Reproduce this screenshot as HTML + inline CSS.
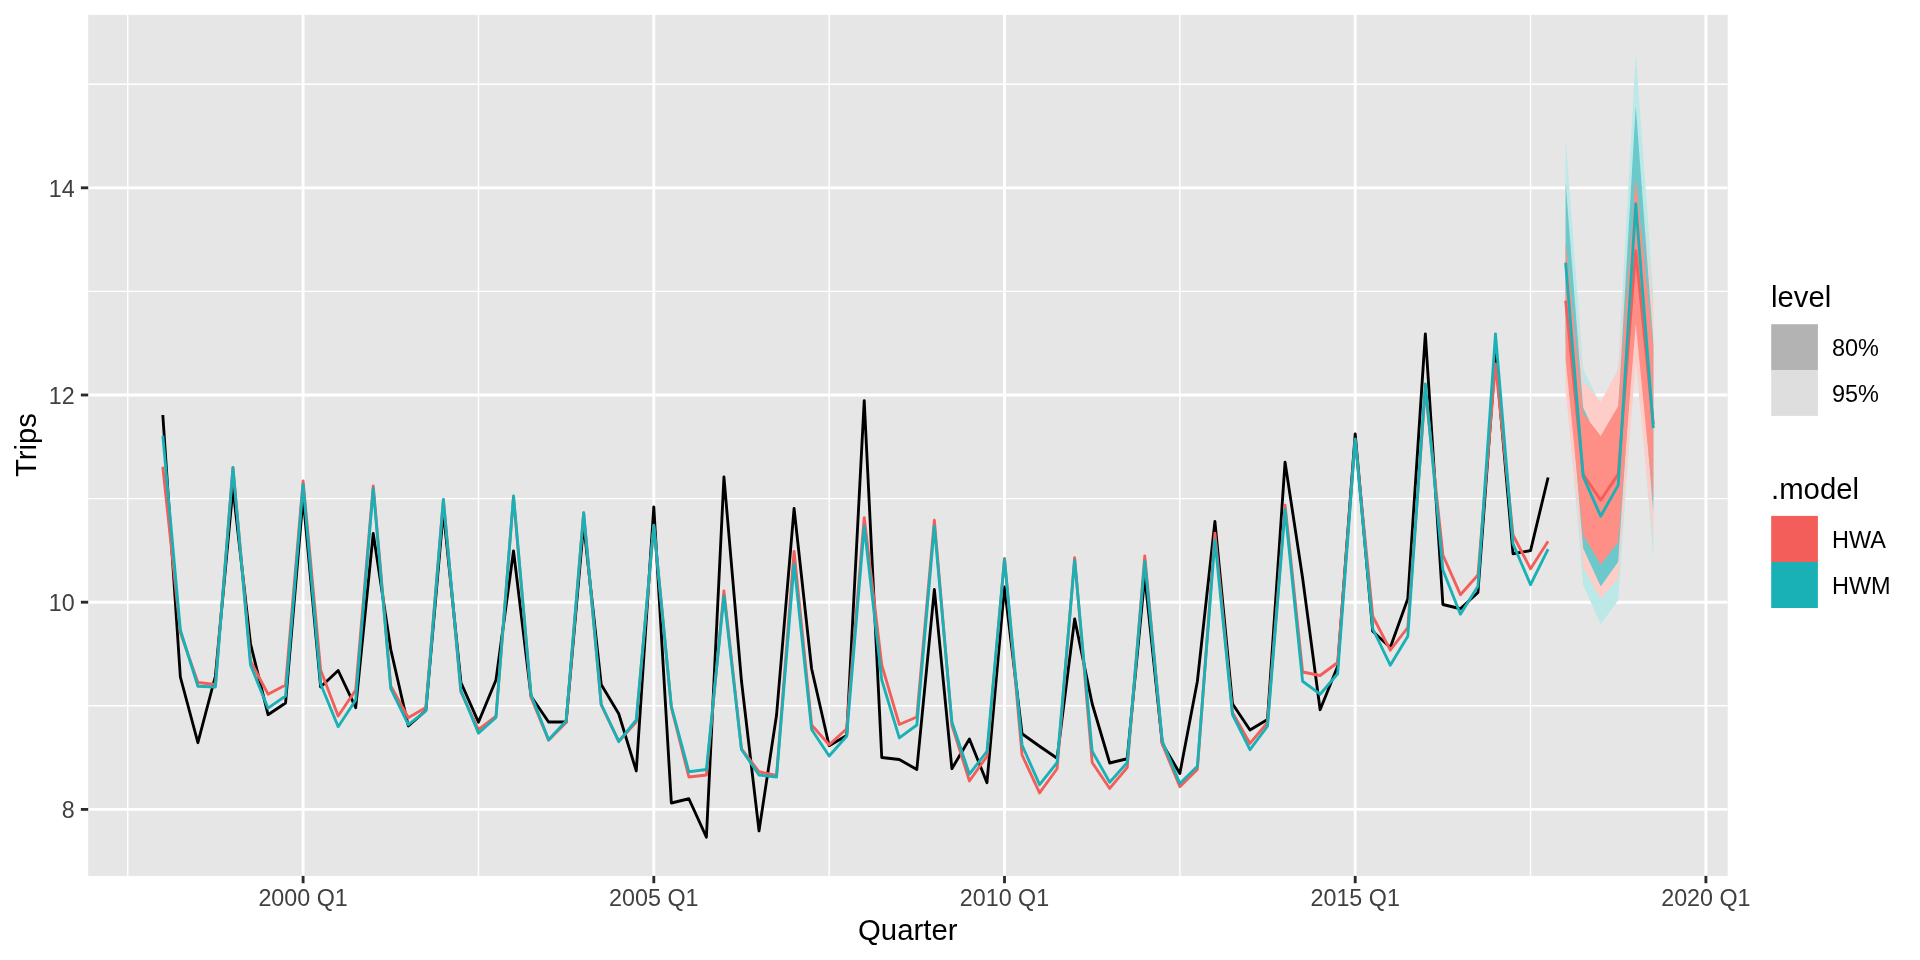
<!DOCTYPE html>
<html><head><meta charset="utf-8"><title>Holt-Winters forecasts</title>
<style>html,body{margin:0;padding:0;background:#fff;}body{width:1920px;height:960px;overflow:hidden;font-family:"Liberation Sans",sans-serif;}</style>
</head><body>
<svg width="1920" height="960" viewBox="0 0 1920 960" style="display:block;will-change:transform">
<rect x="0" y="0" width="1920" height="960" fill="#FFFFFF"/>
<rect x="88.20" y="14.90" width="1639.50" height="861.00" fill="#E6E6E6"/>
<defs><clipPath id="cp"><rect x="88.20" y="14.90" width="1639.50" height="861.00"/></clipPath></defs>
<g clip-path="url(#cp)">
<line x1="88.20" x2="1727.70" y1="705.80" y2="705.80" stroke="#fff" stroke-width="1.42"/>
<line x1="88.20" x2="1727.70" y1="498.60" y2="498.60" stroke="#fff" stroke-width="1.42"/>
<line x1="88.20" x2="1727.70" y1="291.40" y2="291.40" stroke="#fff" stroke-width="1.42"/>
<line x1="88.20" x2="1727.70" y1="84.20" y2="84.20" stroke="#fff" stroke-width="1.42"/>
<line y1="14.90" y2="875.90" x1="127.75" x2="127.75" stroke="#fff" stroke-width="1.42"/>
<line y1="14.90" y2="875.90" x1="478.45" x2="478.45" stroke="#fff" stroke-width="1.42"/>
<line y1="14.90" y2="875.90" x1="829.15" x2="829.15" stroke="#fff" stroke-width="1.42"/>
<line y1="14.90" y2="875.90" x1="1179.85" x2="1179.85" stroke="#fff" stroke-width="1.42"/>
<line y1="14.90" y2="875.90" x1="1530.55" x2="1530.55" stroke="#fff" stroke-width="1.42"/>
<line x1="88.20" x2="1727.70" y1="809.40" y2="809.40" stroke="#fff" stroke-width="2.85"/>
<line x1="88.20" x2="1727.70" y1="602.20" y2="602.20" stroke="#fff" stroke-width="2.85"/>
<line x1="88.20" x2="1727.70" y1="395.00" y2="395.00" stroke="#fff" stroke-width="2.85"/>
<line x1="88.20" x2="1727.70" y1="187.80" y2="187.80" stroke="#fff" stroke-width="2.85"/>
<line y1="14.90" y2="875.90" x1="303.10" x2="303.10" stroke="#fff" stroke-width="2.85"/>
<line y1="14.90" y2="875.90" x1="653.80" x2="653.80" stroke="#fff" stroke-width="2.85"/>
<line y1="14.90" y2="875.90" x1="1004.50" x2="1004.50" stroke="#fff" stroke-width="2.85"/>
<line y1="14.90" y2="875.90" x1="1355.20" x2="1355.20" stroke="#fff" stroke-width="2.85"/>
<line y1="14.90" y2="875.90" x1="1705.90" x2="1705.90" stroke="#fff" stroke-width="2.85"/>
<polygon points="1565.62,138.49 1583.15,369.10 1600.69,405.36 1618.22,368.06 1635.76,53.12 1653.29,293.47 1653.29,557.65 1635.76,348.38 1618.22,600.13 1600.69,624.27 1583.15,585.21 1565.62,381.53" fill="#BDE8E8"/>
<polygon points="1565.62,211.31 1583.15,380.99 1600.69,401.85 1618.22,369.84 1635.76,139.41 1653.29,304.85 1653.29,543.16 1635.76,361.96 1618.22,578.46 1600.69,598.45 1583.15,567.52 1565.62,389.72" fill="#FECDC8"/>
<polygon points="1565.62,182.62 1583.15,407.43 1600.69,444.73 1618.22,408.47 1635.76,105.96 1653.29,342.16 1653.29,512.07 1635.76,298.65 1618.22,561.80 1600.69,586.45 1583.15,548.33 1565.62,340.09" fill="#6BC9CB"/>
<polygon points="1565.62,242.19 1583.15,413.27 1600.69,435.88 1618.22,405.94 1635.76,177.93 1653.29,346.10 1653.29,501.92 1635.76,323.45 1618.22,542.36 1600.69,564.43 1583.15,535.24 1565.62,358.84" fill="#FE8F87"/>
<polyline points="1565.62,300.52 1583.15,474.25 1600.69,500.15 1618.22,474.15 1635.76,250.69 1653.29,424.01" stroke="#F35E5A" fill="none" stroke-width="2.85" stroke-linejoin="round" stroke-linecap="butt"/>
<polyline points="1565.62,262.70 1583.15,476.33 1600.69,516.21 1618.22,485.13 1635.76,203.75 1653.29,428.15" stroke="#19B1B6" fill="none" stroke-width="2.85" stroke-linejoin="round" stroke-linecap="butt"/>
<polyline points="162.82,415.00 180.35,677.00 197.89,742.70 215.43,676.00 232.96,488.00 250.50,643.75 268.03,714.70 285.56,703.00 303.10,497.50 320.63,686.95 338.17,670.50 355.70,707.70 373.24,533.40 390.77,649.50 408.31,725.95 425.84,710.50 443.38,511.00 460.92,682.50 478.45,722.20 495.99,680.00 513.52,550.90 531.06,696.25 548.59,722.00 566.12,722.00 583.66,524.00 601.19,684.50 618.73,713.75 636.26,770.95 653.80,506.90 671.34,803.00 688.87,798.75 706.40,837.20 723.94,476.90 741.47,681.00 759.01,830.95 776.55,715.00 794.08,508.40 811.62,668.75 829.15,745.70 846.68,735.50 864.22,400.65 881.76,757.50 899.29,759.50 916.83,769.45 934.36,589.40 951.89,768.70 969.43,739.00 986.96,782.70 1004.50,586.90 1022.04,733.75 1039.57,746.25 1057.11,758.20 1074.64,618.90 1092.17,703.75 1109.71,763.00 1127.24,758.75 1144.78,576.40 1162.32,743.75 1179.85,773.45 1197.38,681.25 1214.92,521.40 1232.45,703.75 1249.99,729.95 1267.52,719.50 1285.06,462.15 1302.60,578.00 1320.13,709.70 1337.66,666.25 1355.20,433.90 1372.73,631.25 1390.27,647.45 1407.80,598.75 1425.34,333.90 1442.88,604.50 1460.41,608.75 1477.94,592.50 1495.48,353.90 1513.01,553.75 1530.55,550.60 1548.09,477.50" stroke="#000" fill="none" stroke-width="2.85" stroke-linejoin="round" stroke-linecap="butt"/>
<polyline points="162.82,466.75 180.35,632.50 197.89,682.50 215.43,684.50 232.96,467.50 250.50,661.00 268.03,694.20 285.56,685.00 303.10,481.00 320.63,670.00 338.17,715.95 355.70,690.00 373.24,485.90 390.77,686.00 408.31,717.70 425.84,707.50 443.38,500.00 460.92,692.00 478.45,729.70 495.99,716.00 513.52,497.00 531.06,697.50 548.59,740.20 566.12,722.50 583.66,513.00 601.19,705.00 618.73,741.20 636.26,722.00 653.80,526.00 671.34,707.50 688.87,777.00 706.40,775.00 723.94,590.90 741.47,748.75 759.01,771.75 776.55,775.50 794.08,551.40 811.62,725.00 829.15,744.70 846.68,728.75 864.22,517.65 881.76,665.00 899.29,724.45 916.83,717.00 934.36,520.15 951.89,725.00 969.43,780.95 986.96,756.25 1004.50,558.40 1022.04,755.00 1039.57,792.95 1057.11,768.75 1074.64,557.65 1092.17,762.50 1109.71,788.45 1127.24,767.50 1144.78,555.90 1162.32,744.25 1179.85,786.70 1197.38,769.50 1214.92,533.15 1232.45,712.50 1249.99,743.45 1267.52,722.50 1285.06,505.15 1302.60,672.00 1320.13,675.50 1337.66,662.50 1355.20,440.00 1372.73,616.25 1390.27,650.20 1407.80,627.50 1425.34,389.00 1442.88,555.00 1460.41,594.70 1477.94,575.00 1495.48,364.00 1513.01,535.00 1530.55,568.80 1548.09,541.25" stroke="#F35E5A" fill="none" stroke-width="2.85" stroke-linejoin="round" stroke-linecap="butt"/>
<polyline points="162.82,435.75 180.35,630.00 197.89,686.25 215.43,687.00 232.96,467.70 250.50,665.00 268.03,708.20 285.56,696.00 303.10,484.40 320.63,684.00 338.17,726.70 355.70,700.00 373.24,488.40 390.77,688.75 408.31,724.70 425.84,711.00 443.38,499.40 460.92,690.50 478.45,733.20 495.99,717.50 513.52,495.90 531.06,695.00 548.59,739.70 566.12,721.00 583.66,512.65 601.19,704.00 618.73,741.70 636.26,720.00 653.80,525.15 671.34,706.25 688.87,771.75 706.40,769.50 723.94,595.90 741.47,749.50 759.01,775.00 776.55,777.00 794.08,563.90 811.62,729.50 829.15,755.95 846.68,736.25 864.22,526.40 881.76,680.00 899.29,737.95 916.83,725.00 934.36,526.40 951.89,722.00 969.43,774.20 986.96,751.25 1004.50,559.40 1022.04,745.00 1039.57,784.70 1057.11,762.50 1074.64,560.15 1092.17,751.25 1109.71,782.20 1127.24,762.50 1144.78,561.40 1162.32,741.25 1179.85,783.45 1197.38,766.25 1214.92,540.15 1232.45,714.50 1249.99,749.70 1267.52,726.25 1285.06,509.40 1302.60,681.25 1320.13,694.20 1337.66,673.75 1355.20,438.90 1372.73,628.75 1390.27,665.20 1407.80,636.25 1425.34,383.90 1442.88,570.00 1460.41,614.20 1477.94,586.25 1495.48,333.90 1513.01,543.75 1530.55,584.70 1548.09,549.10" stroke="#19B1B6" fill="none" stroke-width="2.85" stroke-linejoin="round" stroke-linecap="butt"/>
</g>
<line x1="80.87" x2="88.20" y1="809.40" y2="809.40" stroke="#2A2A2A" stroke-width="2.85"/>
<line x1="80.87" x2="88.20" y1="602.20" y2="602.20" stroke="#2A2A2A" stroke-width="2.85"/>
<line x1="80.87" x2="88.20" y1="395.00" y2="395.00" stroke="#2A2A2A" stroke-width="2.85"/>
<line x1="80.87" x2="88.20" y1="187.80" y2="187.80" stroke="#2A2A2A" stroke-width="2.85"/>
<line y1="875.90" y2="883.23" x1="303.10" x2="303.10" stroke="#2A2A2A" stroke-width="2.85"/>
<line y1="875.90" y2="883.23" x1="653.80" x2="653.80" stroke="#2A2A2A" stroke-width="2.85"/>
<line y1="875.90" y2="883.23" x1="1004.50" x2="1004.50" stroke="#2A2A2A" stroke-width="2.85"/>
<line y1="875.90" y2="883.23" x1="1355.20" x2="1355.20" stroke="#2A2A2A" stroke-width="2.85"/>
<line y1="875.90" y2="883.23" x1="1705.90" x2="1705.90" stroke="#2A2A2A" stroke-width="2.85"/>
<text x="74.6" y="818.40" text-anchor="end" font-size="23.3" fill="#404040" font-family="Liberation Sans, sans-serif">8</text>
<text x="74.6" y="611.20" text-anchor="end" font-size="23.3" fill="#404040" font-family="Liberation Sans, sans-serif">10</text>
<text x="74.6" y="404.00" text-anchor="end" font-size="23.3" fill="#404040" font-family="Liberation Sans, sans-serif">12</text>
<text x="74.6" y="196.80" text-anchor="end" font-size="23.3" fill="#404040" font-family="Liberation Sans, sans-serif">14</text>
<text x="303.10" y="906.3" text-anchor="middle" font-size="23.3" fill="#404040" font-family="Liberation Sans, sans-serif">2000 Q1</text>
<text x="653.80" y="906.3" text-anchor="middle" font-size="23.3" fill="#404040" font-family="Liberation Sans, sans-serif">2005 Q1</text>
<text x="1004.50" y="906.3" text-anchor="middle" font-size="23.3" fill="#404040" font-family="Liberation Sans, sans-serif">2010 Q1</text>
<text x="1355.20" y="906.3" text-anchor="middle" font-size="23.3" fill="#404040" font-family="Liberation Sans, sans-serif">2015 Q1</text>
<text x="1705.90" y="906.3" text-anchor="middle" font-size="23.3" fill="#404040" font-family="Liberation Sans, sans-serif">2020 Q1</text>
<text x="907.75" y="939.8" text-anchor="middle" font-size="29.33" fill="#000" font-family="Liberation Sans, sans-serif">Quarter</text>
<text transform="translate(36,445) rotate(-90)" text-anchor="middle" font-size="29.33" fill="#000" font-family="Liberation Sans, sans-serif">Trips</text>
<text x="1771" y="306.8" font-size="29.33" fill="#000" font-family="Liberation Sans, sans-serif">level</text>
<rect x="1771.2" y="324.2" width="46.7" height="45.8" fill="#B3B3B3"/>
<rect x="1771.2" y="370" width="46.7" height="45.9" fill="#DEDEDE"/>
<text x="1832" y="356.3" font-size="23.47" fill="#000" font-family="Liberation Sans, sans-serif">80%</text>
<text x="1832" y="402.3" font-size="23.47" fill="#000" font-family="Liberation Sans, sans-serif">95%</text>
<text x="1771" y="499" font-size="29.33" fill="#000" font-family="Liberation Sans, sans-serif">.model</text>
<rect x="1771.2" y="515.9" width="46.7" height="46.1" fill="#F35E5A"/>
<rect x="1771.2" y="562" width="46.7" height="46" fill="#19B1B6"/>
<text x="1832" y="547.8" font-size="23.47" fill="#000" font-family="Liberation Sans, sans-serif">HWA</text>
<text x="1832" y="593.8" font-size="23.47" fill="#000" font-family="Liberation Sans, sans-serif">HWM</text>
</svg>
</body></html>
